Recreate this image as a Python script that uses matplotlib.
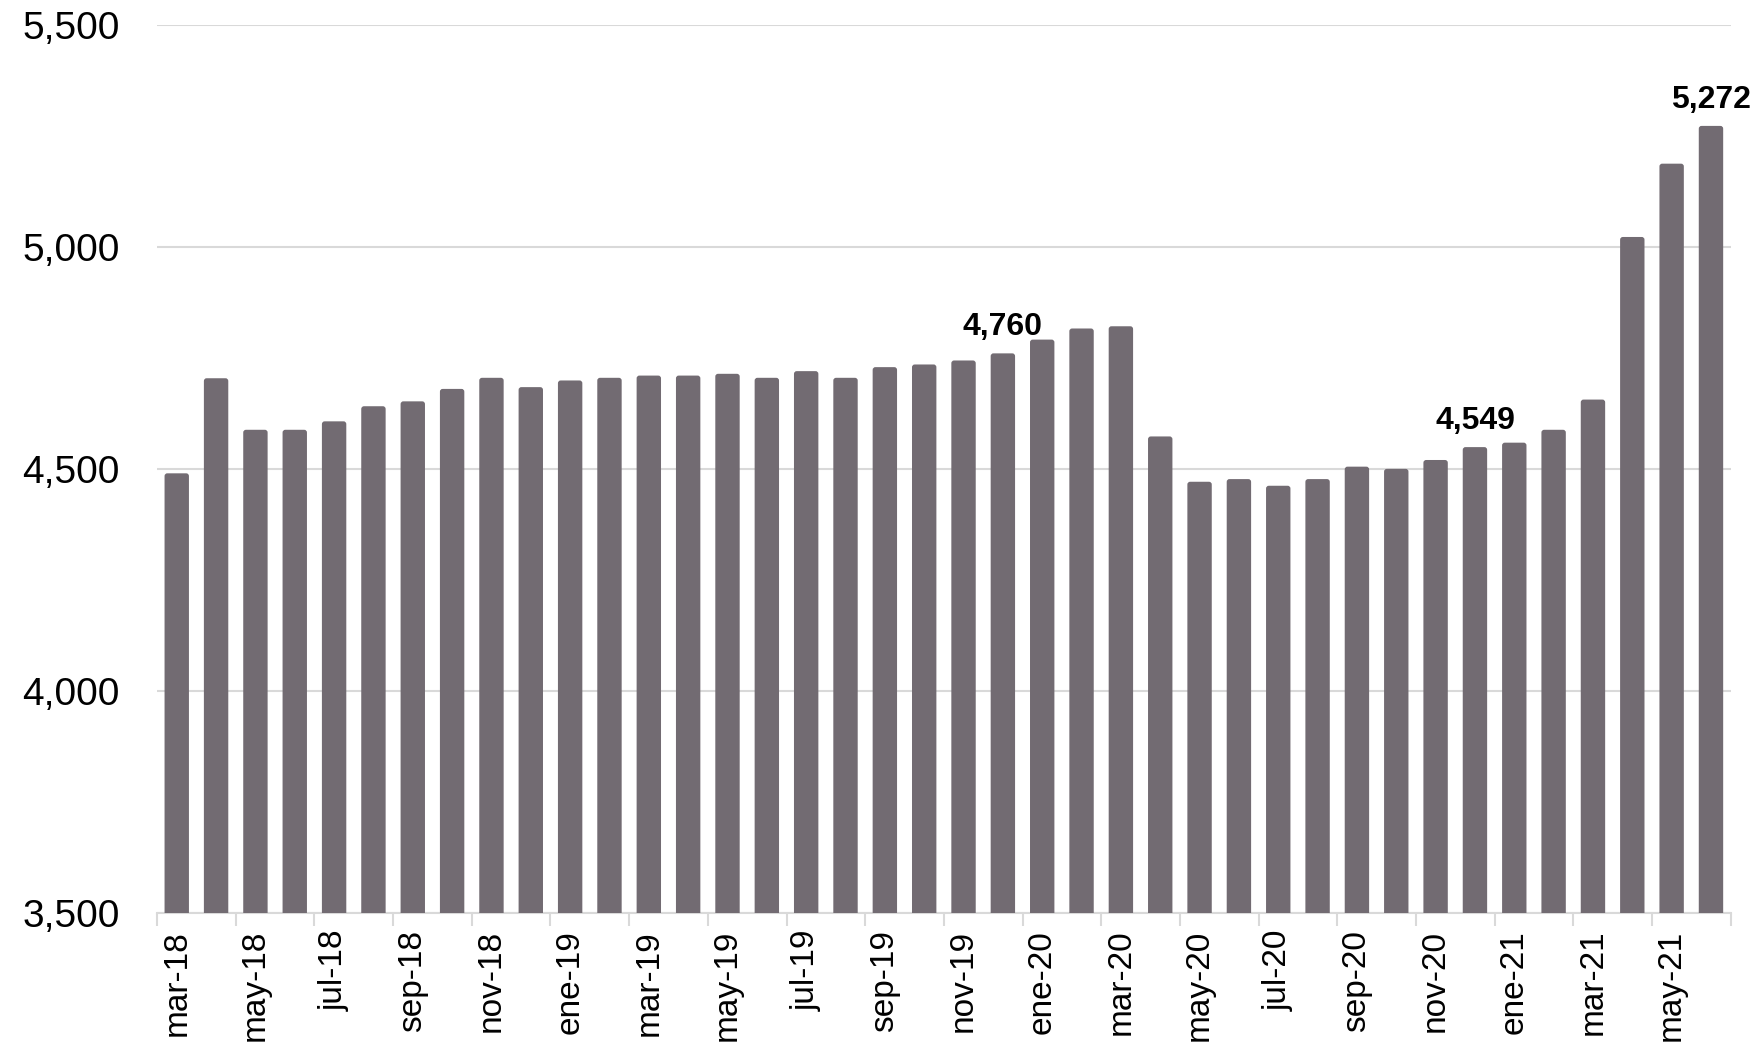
import matplotlib
matplotlib.use("Agg")
import matplotlib.pyplot as plt
from matplotlib.patches import FancyBboxPatch
import numpy as np

plt.rcParams['font.family'] = ['Liberation Sans', 'DejaVu Sans']

# monthly values, mar-18 .. jun-21
months = ['mar-18', 'abr-18', 'may-18', 'jun-18', 'jul-18', 'ago-18', 'sep-18', 'oct-18', 'nov-18', 'dic-18',
          'ene-19', 'feb-19', 'mar-19', 'abr-19', 'may-19', 'jun-19', 'jul-19', 'ago-19', 'sep-19', 'oct-19',
          'nov-19', 'dic-19', 'ene-20', 'feb-20', 'mar-20', 'abr-20', 'may-20', 'jun-20', 'jul-20', 'ago-20',
          'sep-20', 'oct-20', 'nov-20', 'dic-20', 'ene-21', 'feb-21', 'mar-21', 'abr-21', 'may-21', 'jun-21']
values = [4490, 4704, 4588, 4588, 4607, 4641, 4652, 4680, 4705, 4684,
          4699, 4705, 4710, 4710, 4714, 4705, 4720, 4705, 4729, 4735,
          4744, 4760, 4791, 4816, 4821, 4573, 4471, 4477, 4462, 4477,
          4505, 4500, 4520, 4549, 4559, 4588, 4656, 5022, 5187, 5272]
labelled = ['dic-19', 'dic-20', 'jun-21']

BAR_COLOR = '#726b72'
GRID_COLOR = '#d9d9d9'

fig = plt.figure(figsize=(17.57, 10.52), dpi=100)
ax = fig.add_axes([0.0894, 0.132, 0.8956, 0.8446])

ax.set_ylim(3500, 5500)
ax.set_xlim(-0.5, len(months) - 0.5)

x = np.arange(len(months))
bars = ax.bar(x, values, width=0.62, color=BAR_COLOR, zorder=3)

# swap the plain rectangles for ones with slightly rounded tops
x_px = ax.bbox.width / len(months)
y_px = ax.bbox.height / 2000.0
for b in bars:
    rb = FancyBboxPatch((b.get_x(), b.get_y()), b.get_width(), b.get_height(),
                        boxstyle='round,pad=0,rounding_size=0.07',
                        mutation_aspect=x_px / y_px,
                        facecolor=BAR_COLOR, edgecolor='none', zorder=3)
    b.remove()
    ax.add_patch(rb)

for i, m in enumerate(months):
    if m in labelled:
        ax.annotate(f'{values[i]:,}', (x[i], values[i]), xytext=(0, 8), textcoords='offset points',
                    ha='center', va='bottom', fontsize=23, fontweight='bold')

ax.set_yticks([3500, 4000, 4500, 5000, 5500])
ax.set_yticklabels([f'{v:,}' for v in [3500, 4000, 4500, 5000, 5500]])
ax.yaxis.grid(True, color=GRID_COLOR, linewidth=1.5, zorder=0)
ax.tick_params(axis='y', length=0, labelsize=28, pad=27)

ax.set_xticks(x[::2])
ax.set_xticklabels(months[::2], rotation=90)
ax.set_xticks(np.arange(-0.5, len(months), 2), minor=True)
ax.tick_params(axis='x', which='major', length=0, labelsize=24, pad=12)
ax.tick_params(axis='x', which='minor', length=9, color=GRID_COLOR, width=1.5)

for s in ['top', 'right', 'left']:
    ax.spines[s].set_visible(False)
ax.spines['bottom'].set_color(GRID_COLOR)
ax.spines['bottom'].set_linewidth(1.5)

fig.savefig('out.png', dpi=100)
